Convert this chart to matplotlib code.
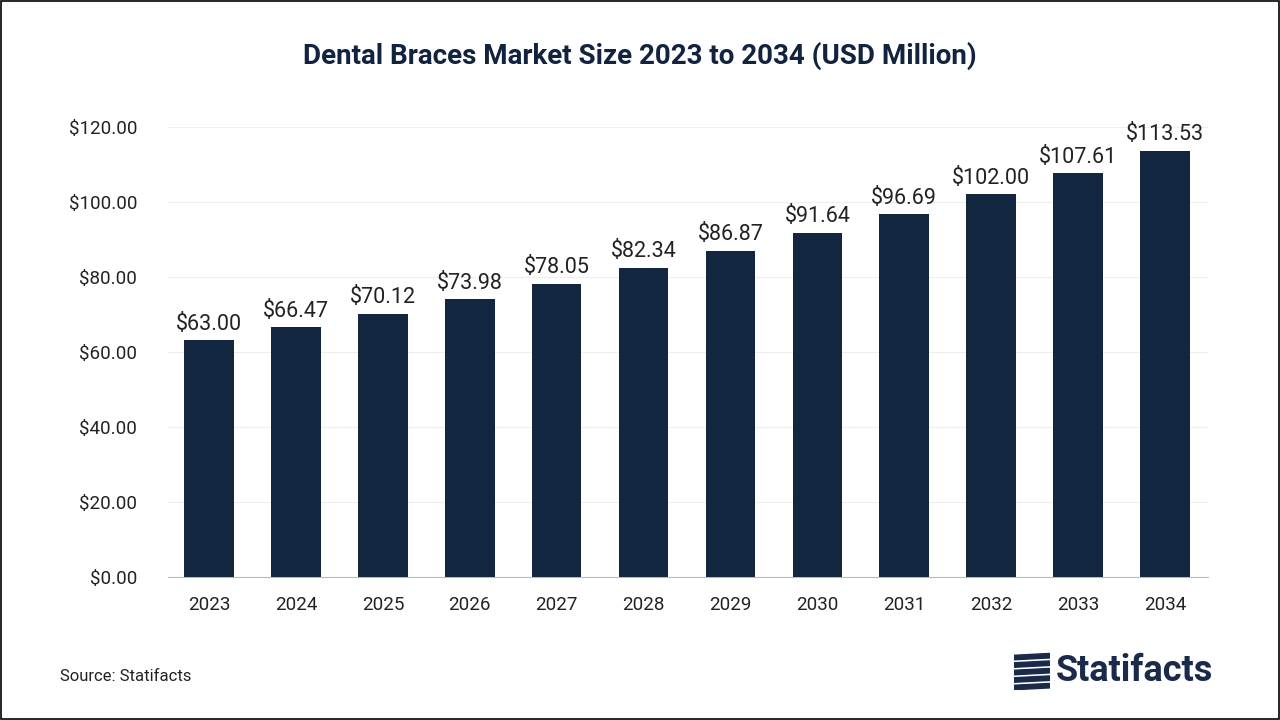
import matplotlib
matplotlib.use("Agg")
import matplotlib.pyplot as plt
from matplotlib.patches import Rectangle, Polygon

years = ["2023","2024","2025","2026","2027","2028","2029","2030","2031","2032","2033","2034"]
values = [63.00,66.47,70.12,73.98,78.05,82.34,86.87,91.64,96.69,102.00,107.61,113.53]
yticks = [0,20,40,60,80,100,120]

F = "Roboto"
fig = plt.figure(figsize=(12.8,7.2), dpi=100)
ax = fig.add_axes([0.131,0.199,0.813,0.625])
x = range(len(years))
ax.bar(x, values, width=0.57, color="#12263f", zorder=3)
for xi, v in zip(x, values):
    ax.text(xi, v+1.5, f"${v:,.2f}", ha="center", va="bottom", fontsize=15.5, color="#222222", family=F)
ax.set_ylim(0,120)
ax.set_xlim(-0.478, 11.5)
ax.set_yticks(yticks)
ax.set_yticklabels([f"${t:.2f}" for t in yticks], fontsize=13.5, color="#222222", family=F)
ax.set_xticks(list(x))
ax.set_xticklabels(years, fontsize=13.5, color="#222222", family=F)
ax.grid(axis="y", color="#eeeeee", linewidth=0.8, zorder=0)
for s in ["top","right","left"]:
    ax.spines[s].set_visible(False)
ax.spines["bottom"].set_color("#bbbbbb")
ax.tick_params(axis="x", length=0, pad=14)
ax.tick_params(axis="y", length=0, pad=22)
fig.text(0.5, 0.922, "Dental Braces Market Size 2023 to 2034 (USD Million)", ha="center", va="center",
         fontsize=20, fontweight="bold", color="#12233f", family=F)
fig.text(0.047, 0.06, "Source: Statifacts", fontsize=12, color="#222222", family=F, va="center")
fig.text(0.825, 0.068, "Statifacts", fontsize=26, fontweight="bold", color="#1a2a4a", family=F, va="center")
lax = fig.add_axes([0.792, 0.042, 0.028, 0.052]); lax.axis("off")
for i in range(5):
    lax.add_patch(Polygon([[0, i*0.2],[1, i*0.2+0.05],[1, i*0.2+0.17],[0, i*0.2+0.12]], color="#1a2a4a"))
lax.set_xlim(0,1); lax.set_ylim(0,1)
fig.add_artist(Rectangle((0.0008,0.0012),0.9984,0.9976, transform=fig.transFigure, fill=False, edgecolor="black", linewidth=1.2))
fig.savefig("out.png", dpi=100)
